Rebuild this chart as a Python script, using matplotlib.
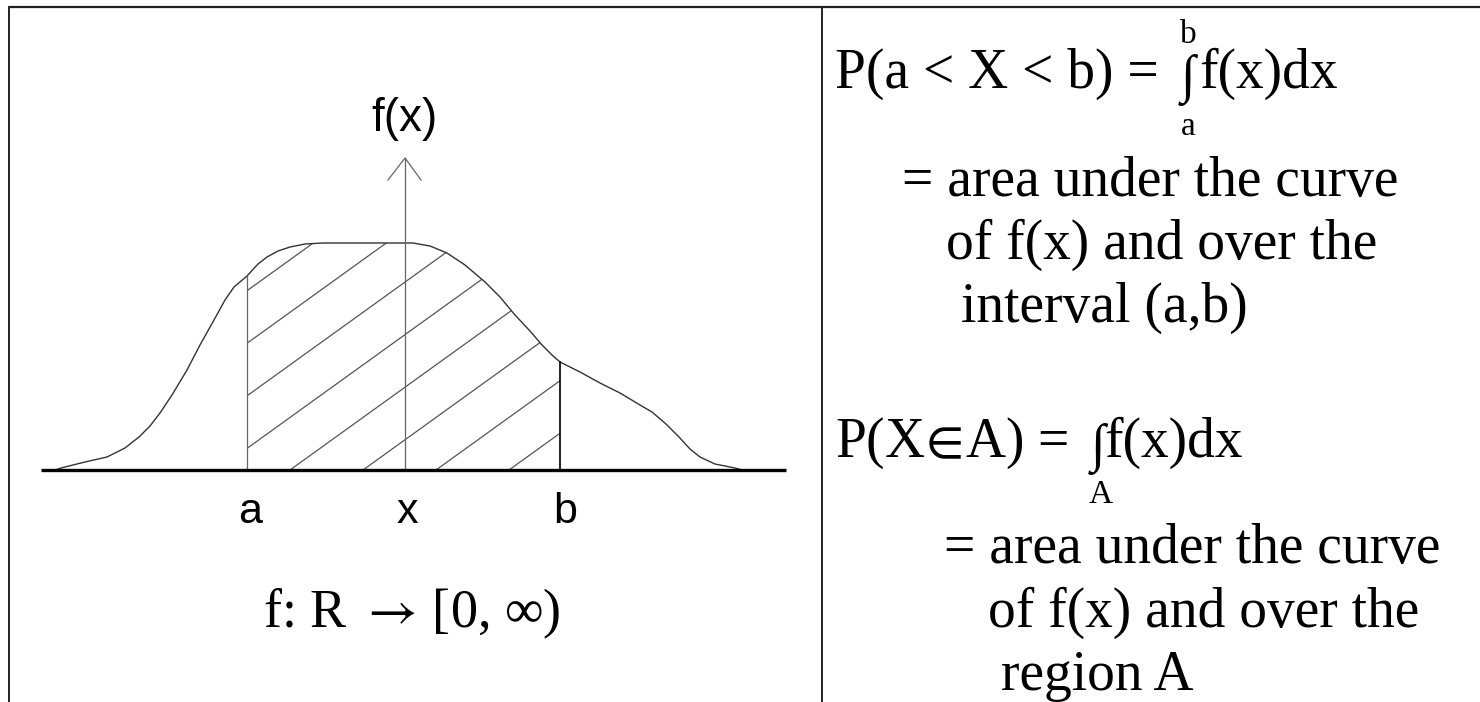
import numpy as np
import matplotlib
matplotlib.use("Agg")
import matplotlib.pyplot as plt
from matplotlib.patches import Polygon

plt.rcParams["mathtext.fontset"] = "stix"

# ---- data (pixel-like units; heights measured above the baseline) ----
curve_x = [55, 61, 85, 107, 125, 139, 150, 160, 172, 187, 200, 214, 225, 234, 247,
           258, 267, 278, 290, 305, 323, 413, 430, 447, 465, 485, 500, 515, 530,
           542, 552, 560, 580, 600, 620, 640, 652, 666, 679, 690, 700, 715, 735, 742]
curve_h = [0, 2, 8, 13, 22, 33, 44, 57, 75, 100, 125, 150, 170, 183, 194,
           206, 213, 219, 223, 226, 227, 227, 224, 217, 205, 188, 173, 155, 139,
           125, 115, 108, 98, 87, 77, 65, 58, 46, 33, 21, 13, 6, 2, 0]
marks = ["a", "x", "b"]
mark_x = [247, 405, 560]

right_lines = [
    ("= area under the curve", 902, 196),
    ("of f(x) and over the", 946, 259),
    ("interval (a,b)", 961, 322),
    ("= area under the curve", 944, 563),
    ("of f(x) and over the", 988, 627),
    ("region A", 1001, 690),
]

W, H = 1480, 702
BASE = 470
fig = plt.figure(figsize=(W / 100, H / 100), dpi=100)
ax = fig.add_axes([0, 0, 1, 1])
ax.set_xlim(0, W)
ax.set_ylim(H, 0)
ax.axis("off")

serif = ["Liberation Serif", "DejaVu Serif"]
sans = ["Liberation Sans", "DejaVu Sans"]

# table borders
ax.plot([9, W], [7, 7], color="#222222", lw=1.6, solid_capstyle="butt")
ax.plot([9, 9], [7, H], color="#222222", lw=1.4)
ax.plot([822, 822], [7, H], color="#222222", lw=1.4)

cx = np.array(curve_x, float)
cy = BASE - np.array(curve_h, float)

# hatched region between a and b
a_x, x_x, b_x = mark_x
ya = BASE - np.interp(a_x, cx, curve_h)
yb = BASE - np.interp(b_x, cx, curve_h)
inside = (cx > a_x) & (cx < b_x)
poly = np.vstack([[a_x, BASE], [a_x, ya],
                  np.column_stack([cx[inside], cy[inside]]),
                  [b_x, yb], [b_x, BASE]])
clip = Polygon(poly, closed=True, facecolor="none", edgecolor="none")
ax.add_patch(clip)
slope = 0.72
for k in range(-6, 5):
    x0 = 290 + 73 * k
    ln, = ax.plot([x0, x0 + 420], [BASE, BASE - slope * 420], color="#555555", lw=0.9)
    ln.set_clip_path(clip)

# curve
ax.plot(cx, cy, color="#333333", lw=1.0)

# vertical lines
ax.plot([a_x, a_x], [BASE, ya], color="#666666", lw=0.9)
ax.plot([b_x, b_x], [BASE, yb], color="#111111", lw=1.3)
ax.plot([x_x, x_x], [BASE, 158], color="#666666", lw=0.9)
ax.plot([388, x_x, 421], [180, 158, 180], color="#666666", lw=0.9)

# baseline
ax.plot([41, 786], [BASE, BASE], color="black", lw=2.4, solid_capstyle="butt")

# labels
ax.text(x_x, 131, "f(x)", family=sans, fontsize=33, ha="center", va="baseline")
for m, mx in zip(marks, [250, 407, 565]):
    ax.text(mx, 523, m, family=sans, fontsize=31, ha="center", va="baseline")
ax.text(263, 627, r"f: R $\rightarrow\!$ [0, " + "\u221e)", family=serif, fontsize=39,
        ha="left", va="baseline")

# right panel
FS = 40
ax.text(835, 88, "P(a < X < b) =", family=serif, fontsize=FS, va="baseline")
ax.text(1181, 92, "\u222b", family=serif, fontsize=38, va="baseline")
ax.text(1199, 88, "f(x)dx", family=serif, fontsize=FS, va="baseline")
ax.text(1188, 43, "b", family=serif, fontsize=24, ha="center", va="baseline")
ax.text(1188, 135, "a", family=serif, fontsize=24, ha="center", va="baseline")

ax.text(835, 457, r"P(X$\!\in\!$A) =", family=serif, fontsize=FS, va="baseline")
ax.text(1091, 461, "\u222b", family=serif, fontsize=38, va="baseline")
ax.text(1104, 457, "f(x)dx", family=serif, fontsize=FS, va="baseline")
ax.text(1101, 503, "A", family=serif, fontsize=24, ha="center", va="baseline")

for txt, x, y in right_lines:
    ax.text(x, y, txt, family=serif, fontsize=FS, va="baseline")

fig.savefig("out.png", dpi=100, facecolor="white")
